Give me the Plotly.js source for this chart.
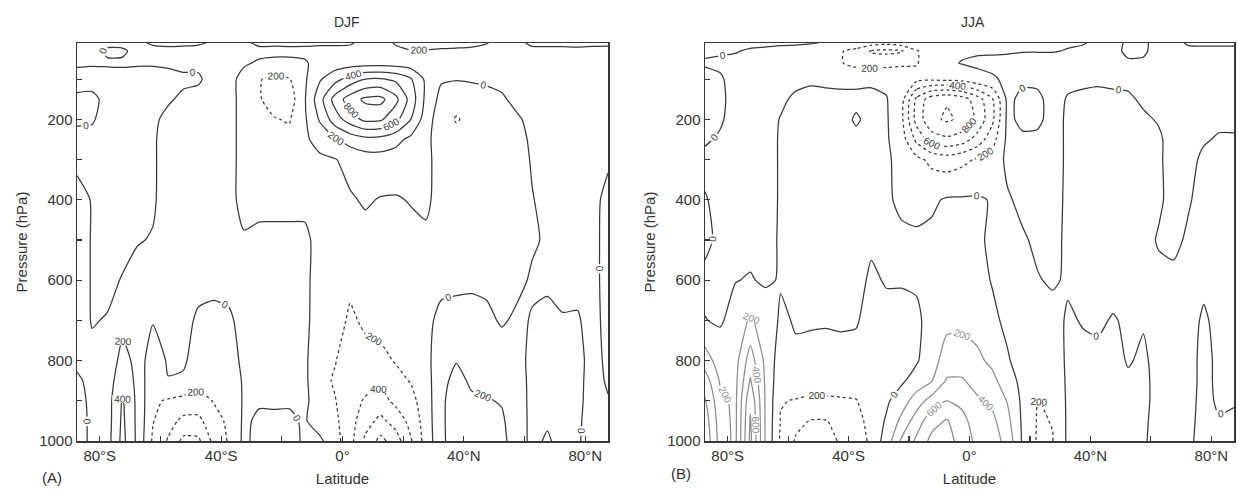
<!DOCTYPE html>
<html>
<head>
<meta charset="utf-8">
<script src="https://cdn.plot.ly/plotly-3.0.1.min.js"></script>
<style>
  html, body { margin: 0; padding: 0; background: #fff; }
  #chart { width: 1238px; height: 491px; }
</style>
</head>
<body>
<div id="chart"></div>
<script>
// Latitude (deg, south negative) and pressure levels (hPa)
const latitude = [-87.5, -82.5, -77.5, -72.5, -67.5, -62.5, -57.5, -52.5, -47.5, -42.5, -37.5, -32.5,
                  -27.5, -22.5, -17.5, -12.5, -7.5, -2.5, 2.5, 7.5, 12.5, 17.5, 22.5, 27.5,
                  32.5, 37.5, 42.5, 47.5, 52.5, 57.5, 62.5, 67.5, 72.5, 77.5, 82.5, 87.5];
const pressure = [10, 30, 60, 100, 150, 200, 250, 300, 400, 500, 600, 700, 800, 850, 900, 950, 1000];

const latTickVals = [-80, -40, 0, 40, 80];
const latTickText = ['80°S', '40°S', '0°', '40°N', '80°N'];
const presTickVals = [200, 400, 600, 800, 1000];

// DJF field: one profile per latitude, values at each pressure level
const djfColumns = [
  [40, 60, 30, -80, 40, 30, -60, -40, 60, 100, 100, 80, 40, -30, -60, -60, -60],
  [30, 60, 20, -80, 50, 20, -60, -50, -10, -15, -15, -10, 40, 50, 40, 30, 30],
  [40, -30, 25, -80, -60, -80, -90, -90, -80, -60, -40, 10, 80, 100, 110, 110, 120],
  [50, -30, 30, -80, -80, -90, -90, -90, -80, -50, 10, 150, 260, 330, 420, 440, 460],
  [30, 60, 20, -80, -90, -90, -80, -80, -60, -10, 60, 120, 150, 150, 150, 150, 150],
  [-20, 50, 20, -80, -60, -30, -20, -20, -20, 10, 60, 20, -160, -170, -170, -190, -230],
  [-40, 50, 30, -60, -20, 40, 60, 60, 70, 80, 80, 60, 30, -10, -220, -320, -420],
  [-30, 50, 40, -30, 30, 60, 70, 70, 80, 80, 70, 40, 20, -20, -260, -450, -650],
  [-20, 60, 30, -20, 50, 70, 80, 80, 80, 70, 40, -20, -60, -120, -280, -450, -640],
  [20, 60, 80, 60, 70, 80, 80, 80, 70, 60, 30, -30, -80, -120, -190, -280, -350],
  [40, 60, 70, 60, 60, 60, 60, 60, 60, 60, 40, -20, -60, -100, -130, -160, -180],
  [30, 50, 20, -60, -60, -60, -60, -60, -60, 20, 40, 40, 30, 20, 20, 30, 40],
  [-30, 40, -20, -190, -185, -120, -100, -80, -50, 40, 60, 60, 50, 40, 20, -30, -60],
  [-40, 60, -60, -240, -270, -190, -140, -100, -60, 50, 70, 70, 60, 50, 30, -40, -80],
  [-40, 50, -50, -210, -300, -215, -150, -100, -60, 50, 60, 60, 50, 40, 20, -30, -70],
  [-30, 40, -20, -30, -20, -30, -40, -60, -50, 40, 40, 40, 30, 40, 60, 20, 30],
  [-20, 40, 60, 180, 320, 220, 80, -40, -70, -60, -70, -80, -110, -140, -150, -100, 40],
  [-20, 40, 90, 330, 680, 500, 180, -10, -60, -80, -90, -120, -190, -220, -190, -160, -120],
  [-10, 30, 110, 480, 900, 700, 280, 60, -20, -100, -160, -230, -290, -310, -320, -320, -330],
  [30, 40, 120, 600, 1040, 850, 340, 110, 20, -60, -110, -170, -260, -330, -420, -520, -640],
  [100, 80, 120, 620, 1060, 830, 330, 120, -10, -60, -100, -150, -240, -360, -480, -650, -860],
  [220, 150, 110, 560, 860, 660, 260, 110, -15, -60, -90, -130, -190, -250, -350, -520, -700],
  [260, 190, 90, 420, 520, 400, 150, 90, 10, -50, -80, -100, -150, -190, -260, -340, -420],
  [260, 190, 70, 160, 150, 100, 40, 50, 30, -30, -30, -40, -60, -80, -100, -110, -120],
  [250, 180, 60, 20, -60, -120, -80, -80, -60, -60, -40, 40, 120, 140, 160, 160, 150],
  [250, 170, 50, 10, -130, -215, -130, -100, -80, -70, -50, 80, 190, 260, 300, 310, 320],
  [240, 160, 50, 20, -100, -150, -120, -100, -80, -60, -30, 60, 130, 170, 230, 280, 300],
  [210, 120, 40, 30, -60, -100, -100, -90, -80, -60, -40, 40, 120, 160, 210, 260, 280],
  [120, 60, 40, 40, -20, -70, -80, -80, -70, -50, -40, -20, 100, 150, 190, 220, 240],
  [40, 30, 40, 50, 40, -20, -40, -50, -50, -40, -40, 30, 80, 100, 110, 120, 120],
  [-30, 40, 50, 60, 60, 40, 20, 10, -5, -20, 20, -10, -60, -60, -60, -60, -60],
  [-40, 50, 60, 60, 60, 60, 50, 40, 30, 20, 20, -30, -80, -80, -60, -30, 30],
  [-40, 50, 60, 60, 60, 60, 50, 40, 40, 40, 40, -10, -30, -40, -60, -60, -80],
  [-40, 40, 60, 60, 60, 50, 50, 40, 40, 40, 30, -10, -40, -40, -40, -30, -20],
  [-30, 40, 60, 60, 60, 50, 50, 40, 40, 40, 40, 40, 50, 60, 70, 80, 80],
  [-20, 30, 50, 50, 50, 40, 30, 20, -40, -50, -50, -40, -30, -20, 10, 40, 60]
];

// JJA field: one profile per latitude, values at each pressure level
const jjaColumns = [
  [40, 30, -20, 60, 80, 70, 20, -40, 10, 40, -40, 5, 300, 500, 620, 700, 750],
  [30, 20, -30, 20, 30, 20, -20, -60, -40, -40, -50, -20, 100, 180, 260, 300, 320],
  [40, 10, -40, -60, -50, -60, -70, -80, -70, -60, -5, 60, 120, 140, 150, 150, 150],
  [40, -20, -60, -60, -60, -60, -60, -60, -50, -40, 10, 230, 500, 620, 760, 820, 850],
  [30, -30, -60, -60, -50, -40, -40, -40, -40, -30, -20, 90, 150, 170, 180, 180, 180],
  [20, -40, -60, -60, -20, 5, 10, 10, 10, 10, 10, -20, -100, -140, -190, -210, -230],
  [20, -60, -80, -30, 20, 50, 60, 60, 60, 60, 40, 10, -20, -100, -210, -350, -420],
  [10, -80, -120, -20, 40, 60, 70, 70, 70, 70, 50, 20, -60, -120, -230, -410, -450],
  [-10, -100, -150, -30, 40, 60, 70, 70, 70, 70, 50, 10, -40, -110, -230, -410, -460],
  [-60, -190, -190, -40, 40, 60, 70, 70, 70, 60, 40, 20, -50, -110, -220, -330, -380],
  [-80, -250, -260, -40, 40, -20, 40, 60, 60, 50, 40, 10, -40, -90, -210, -280, -330],
  [-120, -420, -280, -30, 40, 50, 50, 50, 50, 20, -20, -40, -60, -70, -90, -120, -150],
  [-150, -450, -260, -40, 10, 20, 20, 20, 15, 30, 10, -40, -60, -50, -30, 20, 90],
  [-100, -420, -230, -80, -120, -150, -100, -40, -20, 20, 10, -40, -50, -30, 100, 250, 430],
  [-20, -220, -210, -150, -650, -680, -450, -150, -40, 20, 20, -30, -20, 80, 300, 500, 640],
  [-20, -60, -120, -160, -920, -950, -700, -250, -30, 40, 60, 60, 120, 190, 480, 720, 860],
  [-30, -40, -40, -150, -980, -1030, -760, -300, 20, 60, 90, 150, 290, 420, 600, 820, 900],
  [-40, -30, 10, -140, -900, -960, -700, -250, 20, 50, 70, 150, 300, 420, 560, 650, 700],
  [-40, -20, 30, -60, -700, -760, -520, -180, 20, 30, 60, 130, 240, 330, 430, 520, 560],
  [-40, -20, 40, -20, -430, -450, -280, -120, -10, -30, -10, 40, 160, 250, 360, 450, 500],
  [-40, -20, 60, 30, 40, 40, 40, 40, -20, -60, -70, -40, 20, 100, 190, 260, 330],
  [-40, -10, 80, 30, -40, -40, 30, 60, 40, -20, -40, -60, -80, -60, -40, -30, -20],
  [-30, -10, 90, 30, -30, -30, 30, 60, 60, 30, -10, -60, -100, -150, -205, -215, -220],
  [-30, -10, 80, 40, 50, 50, 50, 50, 40, 30, 20, -60, -100, -130, -170, -195, -205],
  [-20, 10, 60, 30, -10, -20, -20, -20, -20, -20, -20, 20, 30, 30, 30, 30, 30],
  [-10, 30, 60, 40, -40, -70, -80, -80, -80, -70, -60, -10, 40, 60, 70, 70, 70],
  [30, 50, 50, 30, -50, -80, -100, -100, -100, -90, -60, -20, 30, 60, 80, 90, 90],
  [40, 40, 40, 30, -30, -60, -70, -70, -80, -70, -50, 10, 40, 60, 70, 80, 80],
  [-20, -30, 20, 30, -20, -40, -50, -50, -50, -50, -40, -20, -10, 20, 40, 50, 50],
  [-20, -20, 20, 40, 20, -20, -40, -40, -40, -40, -30, -10, 20, 30, 30, 20, 10],
  [40, 50, 50, 50, 40, 10, -20, -20, -20, 10, -30, -40, -40, -40, -40, -40, -30],
  [50, 60, 60, 60, 60, 60, 50, 50, 40, 30, -30, -50, -60, -60, -60, -60, -50],
  [-20, 40, 50, 50, 50, 50, 40, 30, 10, -20, -40, -50, -50, -50, -40, -30, -20],
  [-20, 30, 40, 40, 40, 30, 10, -20, -40, -40, -30, 20, 40, 40, 40, 40, 40],
  [-20, 30, 40, 40, 30, 20, -10, -40, -50, -50, -50, -40, -30, -30, -20, 10, 30],
  [-20, 30, 40, 40, 30, 20, -10, -30, -40, -40, -40, -40, -30, -20, -10, 20, 30]
];

const FONT = '"Liberation Sans", Arial, Helvetica, sans-serif';
const INK = '#383838';
const GREY = '#8c8c8c';

// Negative values are drawn as dashed contours of the sign-flipped field,
// so their labels read as magnitudes.
const flip = cols => cols.map(col => col.map(v => -v));

// One set of contour lines in a single colour (lines and labels share it)
function contourSet(z, xa, ya, start, end, color, dash) {
  return {
    type: 'contour',
    x: latitude, y: pressure, z: z, transpose: true,
    xaxis: xa, yaxis: ya,
    autocontour: false,
    colorscale: [[0, color], [1, color]],
    contours: {
      start: start, end: end, size: 200,
      coloring: 'lines',
      showlabels: true,
      labelformat: 'd',
      labelfont: { family: FONT, size: 10, color: color }
    },
    line: { width: 1.25, dash: dash, smoothing: 0.6 },
    showscale: false,
    hoverinfo: 'skip'
  };
}

const traces = [
  // DJF: zero and positive solid, negative dashed
  contourSet(djfColumns, 'x', 'y', 0, 1400, INK, 'solid'),
  contourSet(flip(djfColumns), 'x', 'y', 200, 1400, INK, '3px,3px'),
  // JJA: zero solid, positive grey, negative dashed
  contourSet(jjaColumns, 'x2', 'y2', 0, 0, INK, 'solid'),
  contourSet(jjaColumns, 'x2', 'y2', 200, 1400, GREY, 'solid'),
  contourSet(flip(jjaColumns), 'x2', 'y2', 200, 1400, INK, '3px,3px')
];

function latAxis(domain, anchor) {
  return {
    domain: domain, anchor: anchor,
    range: [-87.5, 87.5],
    tickmode: 'array', tickvals: latTickVals, ticktext: latTickText,
    ticks: 'inside', ticklen: 5, tickwidth: 1.2, tickcolor: INK,
    minor: { tickmode: 'array', tickvals: [-60, -20, 20, 60], ticks: 'inside', ticklen: 5, tickwidth: 1.2, tickcolor: INK },
    showline: true, linecolor: INK, linewidth: 1.5, mirror: true,
    showgrid: false, zeroline: false,
    tickfont: { family: FONT, size: 15, color: '#333' },
    title: { text: 'Latitude', font: { family: FONT, size: 15, color: '#333' }, standoff: 11 }
  };
}

function presAxis(domain, anchor) {
  return {
    domain: domain, anchor: anchor,
    range: [1000, 10],
    tickmode: 'array', tickvals: presTickVals,
    ticks: 'inside', ticklen: 5, tickwidth: 1.2, tickcolor: INK,
    minor: { tickmode: 'array', tickvals: [100, 300, 500, 700, 900], ticks: 'inside', ticklen: 5, tickwidth: 1.2, tickcolor: INK },
    showline: true, linecolor: INK, linewidth: 1.5, mirror: true,
    showgrid: false, zeroline: false,
    tickfont: { family: FONT, size: 15, color: '#333' },
    title: { text: 'Pressure (hPa)', font: { family: FONT, size: 15, color: '#333' }, standoff: 8 }
  };
}

const yDomain = [50 / 491, 448 / 491];

const layout = {
  width: 1238, height: 491,
  margin: { l: 0, r: 0, t: 0, b: 0 },
  paper_bgcolor: '#fff', plot_bgcolor: '#fff',
  showlegend: false,
  font: { family: FONT, color: '#333' },
  xaxis: latAxis([77 / 1238, 608 / 1238], 'y'),
  yaxis: presAxis(yDomain, 'x'),
  xaxis2: latAxis([705 / 1238, 1234 / 1238], 'y2'),
  yaxis2: presAxis(yDomain, 'x2'),
  annotations: [
    { text: 'DJF', x: 347 / 1238, y: 1 - 22 / 491, xref: 'paper', yref: 'paper', showarrow: false,
      font: { family: FONT, size: 14, color: '#333' }, xanchor: 'center', yanchor: 'middle' },
    { text: 'JJA', x: 973 / 1238, y: 1 - 22 / 491, xref: 'paper', yref: 'paper', showarrow: false,
      font: { family: FONT, size: 14, color: '#333' }, xanchor: 'center', yanchor: 'middle' },
    { text: '(A)', x: 52 / 1238, y: 1 - 477 / 491, xref: 'paper', yref: 'paper', showarrow: false,
      font: { family: FONT, size: 15, color: '#333' }, xanchor: 'center', yanchor: 'middle' },
    { text: '(B)', x: 681 / 1238, y: 1 - 473 / 491, xref: 'paper', yref: 'paper', showarrow: false,
      font: { family: FONT, size: 15, color: '#333' }, xanchor: 'center', yanchor: 'middle' }
  ]
};

Plotly.newPlot('chart', traces, layout, { staticPlot: true, displayModeBar: false }).then(gd => {
  // keep every contour label in its own trace's line colour
  gd.querySelectorAll('g.contour').forEach(g => {
    const d = g.__data__;
    const tr = d && d[0] && d[0].trace;
    if (!tr) return;
    g.querySelectorAll('.contourlabels text').forEach(t => {
      t.style.fill = tr.contours.labelfont.color;
    });
  });
});
</script>
</body>
</html>
